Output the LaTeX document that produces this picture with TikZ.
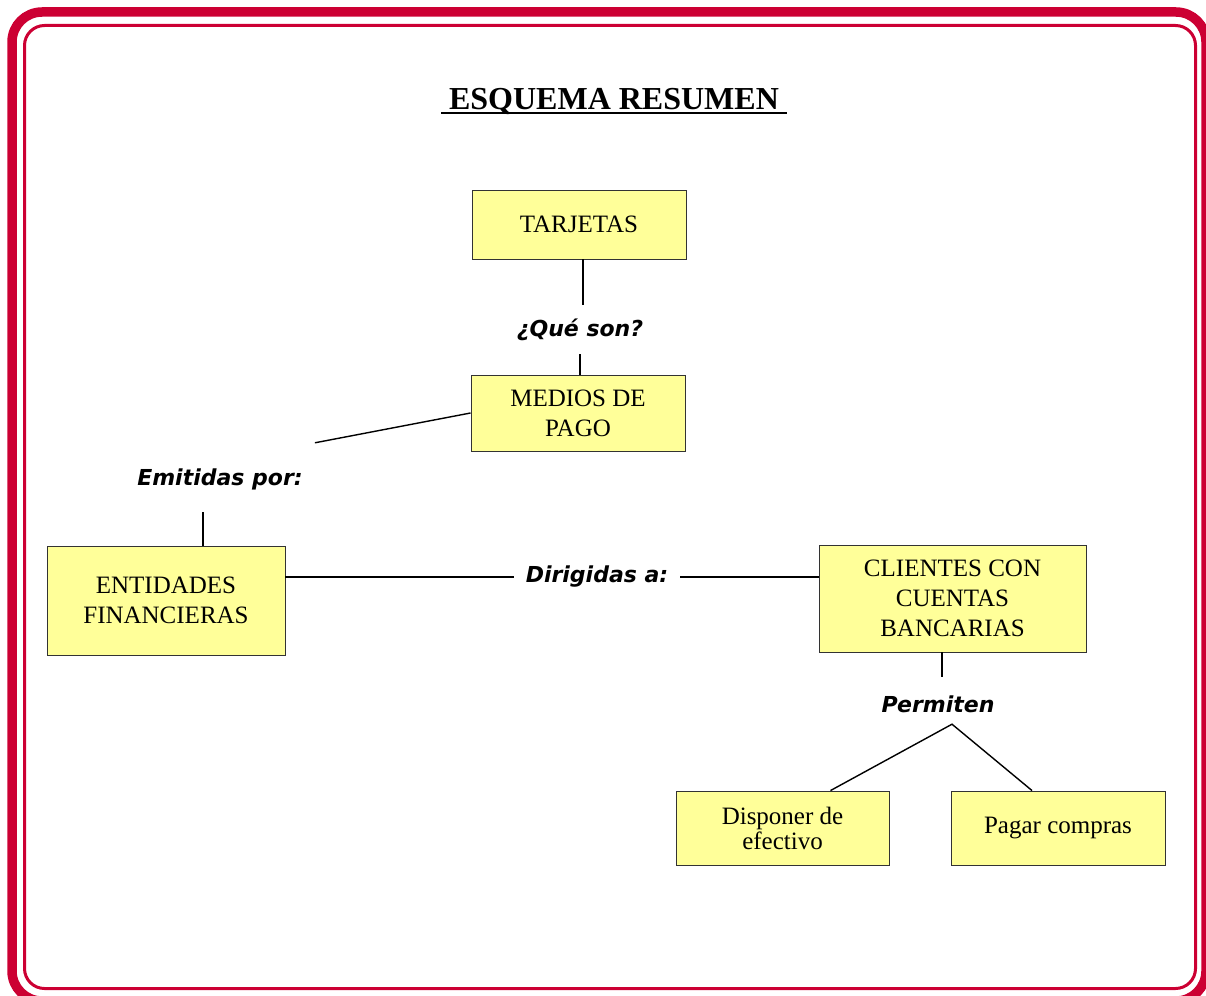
\documentclass[tikz,border=0pt]{standalone}
\usepackage{fontspec}
\setmainfont{Liberation Serif}
\newfontfamily\comicfont{DejaVu Sans}
\definecolor{marco}{RGB}{204,0,51}
\definecolor{amarillo}{RGB}{255,255,153}
\newcommand\subrayar[1]{\setbox0\hbox{#1}\rlap{\vrule width\wd0 height -2pt depth 4.4pt}\box0}

\begin{document}
\begin{tikzpicture}[x=1pt,y=-1pt,
   caja/.style={draw=black!80,line width=0.9pt,fill=amarillo,inner sep=0pt,
     align=center,font=\fontsize{25}{30}\selectfont},
   rotulo/.style={inner xsep=12pt,inner ysep=0pt,minimum height=44pt,
     font=\comicfont\bfseries\itshape\fontsize{22}{26}\selectfont},
   enlace/.style={line width=1.4pt}]
   \useasboundingbox (0,0) rectangle (1206,995);
   % marco
   \draw[marco,line width=9.5pt,rounded corners=30pt] (12,12) rectangle (1206,1001);
   \draw[marco,line width=3pt,rounded corners=20pt] (24.5,25.5) rectangle (1195.5,988.5);
   \node[anchor=base,font=\bfseries\fontsize{32}{38}\selectfont] (titulo) at (614,110)
     {\subrayar{\ ESQUEMA RESUMEN\ }};
   % cajas
   \node[caja,minimum width=214pt,minimum height=69pt] (tarjetas) at (579,224.5) {TARJETAS};
   \node[caja,minimum width=214pt,minimum height=76pt] (medios) at (578,413) {MEDIOS DE\\PAGO};
   \node[caja,minimum width=238pt,minimum height=109pt] (entidades) at (166,600.5) {ENTIDADES\\FINANCIERAS};
   \node[caja,minimum width=267pt,minimum height=107pt] (clientes) at (952.5,598.5) {CLIENTES CON\\CUENTAS\\BANCARIAS};
   \node[caja,minimum width=213pt,minimum height=74pt,font=\fontsize{25}{25}\selectfont] (disponer) at (782.5,828) {Disponer de\\efectivo};
   \node[caja,minimum width=214pt,minimum height=74pt] (pagar) at (1058,828) {Pagar compras};
   % rotulos
   \node[rotulo] (que) at (580,330) {¿Qué son?};
   \node[rotulo] (emit) at (220,479) {Emitidas por:};
   \node[rotulo] (dirig) at (597,577) {Dirigidas a:};
   \node[rotulo] (perm) at (938,704) {Permiten};
   \coordinate (bifurca) at ([xshift=14pt,yshift=2pt]perm.south);
   % enlaces
   \draw[enlace] ([xshift=4pt]tarjetas.south) -- ([xshift=4pt,yshift=3pt]tarjetas.south |- que.north);
   \draw[enlace] ([yshift=-2pt]que.south) -- (que.south |- medios.north);
   \draw[enlace] (medios.west) -- ([yshift=14pt]emit.north east);
   \draw[enlace] ([xshift=-17pt,yshift=-11pt]emit.south) -- ([xshift=-17pt]emit.south |- entidades.north);
   \draw[enlace] (entidades.east |- dirig.west) -- (dirig.west);
   \draw[enlace] (dirig.east) -- (clientes.west |- dirig.east);
   \draw[enlace] ([xshift=4pt]perm.north |- clientes.south) -- ([xshift=4pt,yshift=5pt]perm.north);
   \draw[enlace] ([xshift=48pt]disponer.north) -- (bifurca) -- ([xshift=-26pt]pagar.north);
\end{tikzpicture}
\end{document}
